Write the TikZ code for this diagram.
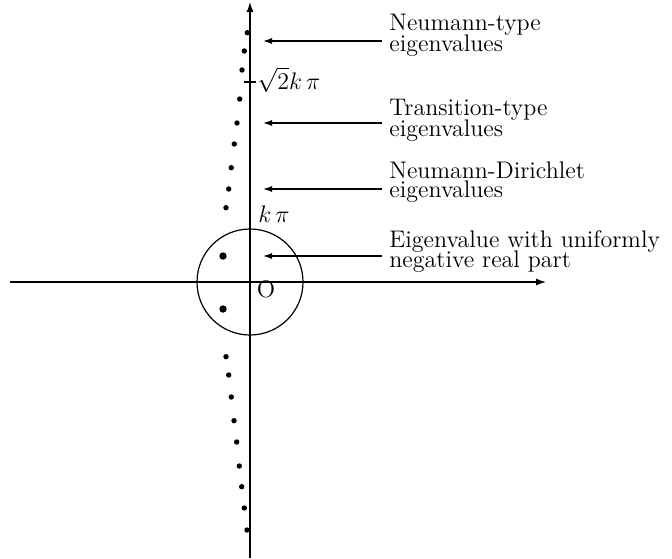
\documentclass[tikz,border=0pt]{standalone}
\usetikzlibrary{arrows.meta}
\begin{document}
\begin{tikzpicture}[x=0.5pt,y=-0.5pt,
  axis/.style={line width=0.6pt,-{Latex[length=5pt,width=3.5pt]}},
  pointer/.style={line width=0.6pt,-{Latex[length=4.5pt,width=3pt]}},
  lab/.style={anchor=base west,inner sep=0pt,font=\fontsize{12}{14}\selectfont},
  sdot/.style={fill=black,draw=none},
  bdot/.style={fill=black,draw=none}]
\useasboundingbox (0,0) rectangle (672,558);
% axes
\coordinate (xs) at (10,282);
\coordinate (xe) at (546,282);
\coordinate (ys) at (250,558);
\coordinate (ye) at (250,2);
\draw[axis] (xs) -- (xe);
\draw[axis] (ys) -- (ye);
% circle
\coordinate (O) at (250,282);
\draw[line width=0.6pt] (O) circle[radius=26.5pt];
% tick
\coordinate (t1) at (244,82);
\coordinate (t2) at (256,82);
\draw[line width=0.6pt] (t1) -- (t2);
% labels on axis
\node[anchor=center,inner sep=0pt,font=\fontsize{12}{14}\selectfont] (olab) at (266,289) {O};
\node[lab] (kpi) at (258,222) {$k\,\pi$};
\node[lab] (s2kpi) at (257,89) {$\sqrt{2}k\,\pi$};
% upper dots
\foreach \px/\py in {247.3/32.7,244.3/51,242/70,239.7/99,237/123,234.3/144,231.3/167.7,228.7/189,226/207.7}
  \fill[sdot] (\px,\py) circle[radius=1.35pt];
% lower dots
\foreach \px/\py in {226/356.7,228.7/375,231.3/397,234/420.7,236.7/442,239.3/466,241.7/486.7,244.3/508,247/530}
  \fill[sdot] (\px,\py) circle[radius=1.35pt];
% circle dots
\fill[bdot] (223,256) circle[radius=1.85pt];
\fill[bdot] (223,309) circle[radius=1.85pt];
% text labels
\node[lab] (n1a) at (389,30) {Neumann-type};
\node[lab] (n1b) at (389,51.5) {eigenvalues};
\node[lab] (n2a) at (389,115) {Transition-type};
\node[lab] (n2b) at (389,136.5) {eigenvalues};
\node[lab] (n3a) at (389,178.5) {Neumann-Dirichlet};
\node[lab] (n3b) at (389,197) {eigenvalues};
\node[lab] (n4a) at (389,247) {Eigenvalue with uniformly};
\node[lab] (n4b) at (389,267) {negative real part};
% pointers
\coordinate (a1s) at (382,41);  \coordinate (a1e) at (263,41);
\coordinate (a2s) at (382,123); \coordinate (a2e) at (263,123);
\coordinate (a3s) at (382,189); \coordinate (a3e) at (263,189);
\coordinate (a4s) at (382,256); \coordinate (a4e) at (263,256);
\draw[pointer] (a1s) -- (a1e);
\draw[pointer] (a2s) -- (a2e);
\draw[pointer] (a3s) -- (a3e);
\draw[pointer] (a4s) -- (a4e);
\end{tikzpicture}
\end{document}
